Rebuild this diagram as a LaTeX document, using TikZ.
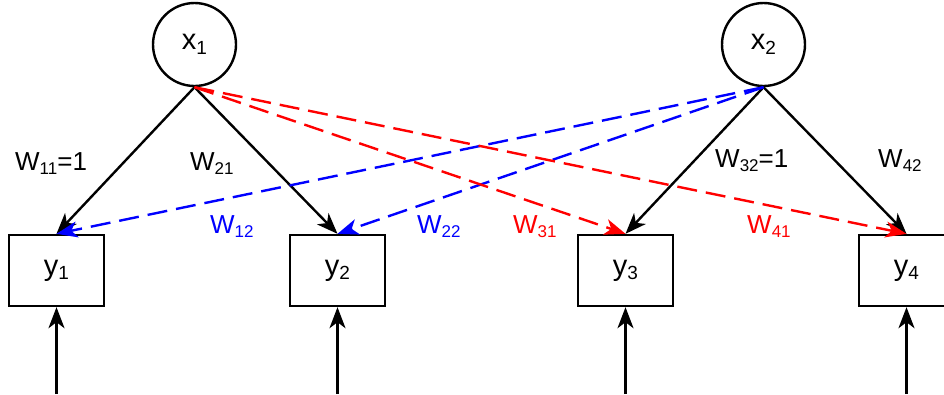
\documentclass[tikz,border=0pt]{standalone}
\usepackage{fontspec}
\setmainfont{Liberation Sans}
\usetikzlibrary{arrows.meta}
\newcommand\sbs[1]{\raisebox{-0.16em}{\fontsize{17}{17}\selectfont #1}}
\newcommand\nsbs[1]{\raisebox{-0.16em}{\fontsize{19}{19}\selectfont #1}}
\definecolor{pblue}{RGB}{0,0,255}
\definecolor{pred}{RGB}{255,0,0}
\begin{document}
\begin{tikzpicture}[x=1pt,y=-1pt,
  every node/.style={font=\fontsize{26}{30}\selectfont},
  circ/.style={draw,circle,line width=2.4pt,minimum size=83pt,inner sep=0pt,font=\fontsize{29}{32}\selectfont},
  obox/.style={draw,rectangle,line width=2.4pt,minimum width=95pt,minimum height=71pt,inner sep=0pt,font=\fontsize{29}{32}\selectfont},
  arr/.style={line width=2.4pt,-{Stealth[length=21pt,width=16pt,inset=6pt]}},
  dsh/.style={arr,dash pattern=on 20pt off 9pt},
  lbl/.style={anchor=base west,inner sep=0pt}]
\useasboundingbox (0,0) rectangle (944,394);
\clip (0,0) rectangle (944,394);
\node[circ] (x1) at (194.5,44.5) {x\nsbs{1}};
\node[circ] (x2) at (763.5,44.5) {x\nsbs{2}};
\node[obox] (y1) at (56.5,270.5) {y\nsbs{1}};
\node[obox] (y2) at (337.5,270.5) {y\nsbs{2}};
\node[obox] (y3) at (625.5,270.5) {y\nsbs{3}};
\node[obox] (y4) at (906.5,270.5) {y\nsbs{4}};
\coordinate (b1) at (56.5,394);
\coordinate (b2) at (337.5,394);
\coordinate (b3) at (625.5,394);
\coordinate (b4) at (906.5,394);
\draw[arr] (x1.south) -- (y1.north);
\draw[arr] (x1.south) -- (y2.north);
\draw[arr] (x2.south) -- (y3.north);
\draw[arr] (x2.south) -- (y4.north);
\draw[dsh,pblue] (x2.south) -- (y1.north);
\draw[dsh,pblue] (x2.south) -- (y2.north);
\draw[dsh,pred] (x1.south) -- (y3.north);
\draw[dsh,pred] (x1.south) -- (y4.north);
\draw[arr] (b1) -- (y1.south);
\draw[arr] (b2) -- (y2.south);
\draw[arr] (b3) -- (y3.south);
\draw[arr] (b4) -- (y4.south);
\node[lbl] (l11) at (15,170) {W\sbs{11}=1};
\node[lbl] (l21) at (190,170) {W\sbs{21}};
\node[lbl,pblue] (l12) at (210,233) {W\sbs{12}};
\node[lbl,pblue] (l22) at (417,233) {W\sbs{22}};
\node[lbl,pred] (l31) at (513,233) {W\sbs{31}};
\node[lbl,pred] (l41) at (747,233) {W\sbs{41}};
\node[lbl] (l32) at (715,167) {W\sbs{32}=1};
\node[lbl] (l42) at (878,167) {W\sbs{42}};
\end{tikzpicture}
\end{document}
